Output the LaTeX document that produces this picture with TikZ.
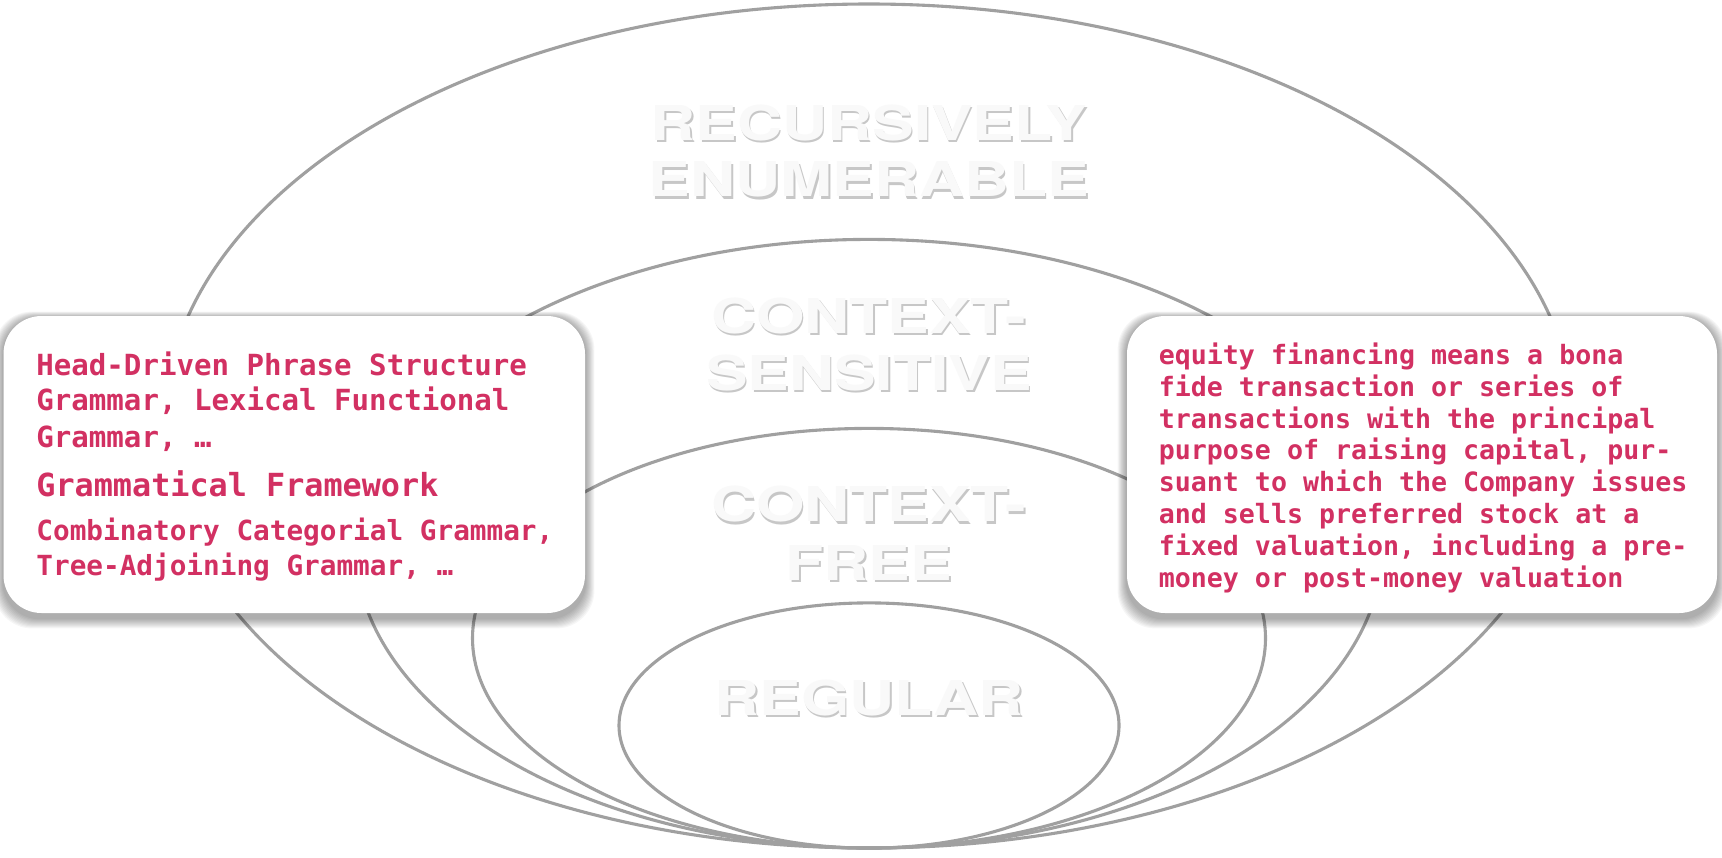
\documentclass[tikz,border=0pt]{standalone}
\usepackage{fontspec}
\newfontfamily\monofont{DejaVu Sans Mono}
\newfontfamily\labelfont[FakeStretch=1.3]{TeX Gyre Heros}
\definecolor{textred}{RGB}{210,48,98}
\definecolor{ringgray}{RGB}{160,160,160}
\pgfdeclarelayer{rings}
\pgfdeclarelayer{shadow}
\pgfsetlayers{rings,shadow,main}
\tikzset{
  ring/.style={draw=ringgray, line width=1.55pt},
  card/.style={draw=none, fill=white, rounded corners=19pt, minimum height=148.5pt, inner sep=0pt},
  lt/.style={anchor=base west, inner sep=0pt, text=textred, font=\monofont\bfseries\fontsize{14.55}{17}\selectfont},
  lbig/.style={lt, font=\monofont\bfseries\fontsize{15.9}{19}\selectfont},
  lsmall/.style={lt, font=\monofont\bfseries\fontsize{13.85}{17}\selectfont},
  rt/.style={lt, font=\monofont\bfseries\fontsize{13.3}{16}\selectfont},
  lblbase/.style={anchor=base, inner sep=0pt, font=\labelfont\bfseries\fontsize{24}{28}\selectfont},
  lblshadow/.style={lblbase, text=black, opacity=0.22},
  lbltext/.style={lblbase, text=gray!5},
}
\newcommand{\shadowlabel}[4]{%
  \coordinate (#1) at (#2,#3);
  \node[lblshadow, xshift=0.8pt, yshift=-1.3pt] (#1s) at (#1) {#4};
  \node[lbltext] (#1t) at (#1) {#4};
}
\begin{document}
\begin{tikzpicture}[x=0.5pt,y=-0.5pt]
\useasboundingbox (0,0) rectangle (1722,857);

% nested language classes
\begin{pgfonlayer}{rings}
\fill[white] (0,0) rectangle (1722,857);
\draw[ring] (869,426) ellipse [x radius=352.5pt, y radius=211pt];
\draw[ring] (869,543.7) ellipse [x radius=257pt, y radius=152.15pt];
\draw[ring] (869,638.2) ellipse [x radius=198.25pt, y radius=104.9pt];
\draw[ring] (869,725.5) ellipse [x radius=125pt, y radius=61.3pt];
\end{pgfonlayer}

% labels
\shadowlabel{re1}{869}{140}{RECURSIVELY}
\shadowlabel{re2}{869}{196.7}{ENUMERABLE}
\shadowlabel{cs1}{869}{333.3}{CONTEXT-}
\shadowlabel{cs2}{869}{390}{SENSITIVE}
\shadowlabel{cf1}{869}{521.7}{CONTEXT-}
\shadowlabel{cf2}{869}{580}{FREE}
\shadowlabel{rg}{869}{715}{REGULAR}

% cards
\node[card, minimum width=290.75pt] (lbox) at (294.25,464.5) {};
\node[card, minimum width=295pt] (rbox) at (1422,464.5) {};

\begin{pgfonlayer}{shadow}
\foreach \b in {lbox,rbox}{
  \foreach \i in {1,...,10}{
    \fill[black, opacity=0.035, rounded corners=19pt]
      ([xshift=-\i*0.45pt, yshift=-1pt+\i*0.3pt]\b.north west)
      rectangle ([xshift=\i*0.45pt, yshift=-2.5pt-\i*0.5pt]\b.south east);
  }
}
\end{pgfonlayer}

% left card text
\node[lt] (l1) at (36,375) {Head-Driven Phrase Structure};
\node[lt] (l2) at (36,410.7) {Grammar, Lexical Functional};
\node[lt] (l3) at (36,447) {Grammar, …};
\node[lbig] (l4) at (36,496.7) {Grammatical Framework};
\node[lsmall] (l5) at (36,540.7) {Combinatory Categorial Grammar,};
\node[lsmall] (l6) at (36,575.7) {Tree-Adjoining Grammar, …};

% right card text
\foreach \t [count=\k from 0] in {
  {equity financing means a bona},
  {fide transaction or series of},
  {transactions with the principal},
  {purpose of raising capital, pur-},
  {suant to which the Company issues},
  {and sells preferred stock at a},
  {fixed valuation, including a pre-},
  {money or post-money valuation}}{
  \node[rt] (r\k) at (1158.5,364.2+31.9*\k) {\t};
}
\end{tikzpicture}
\end{document}
